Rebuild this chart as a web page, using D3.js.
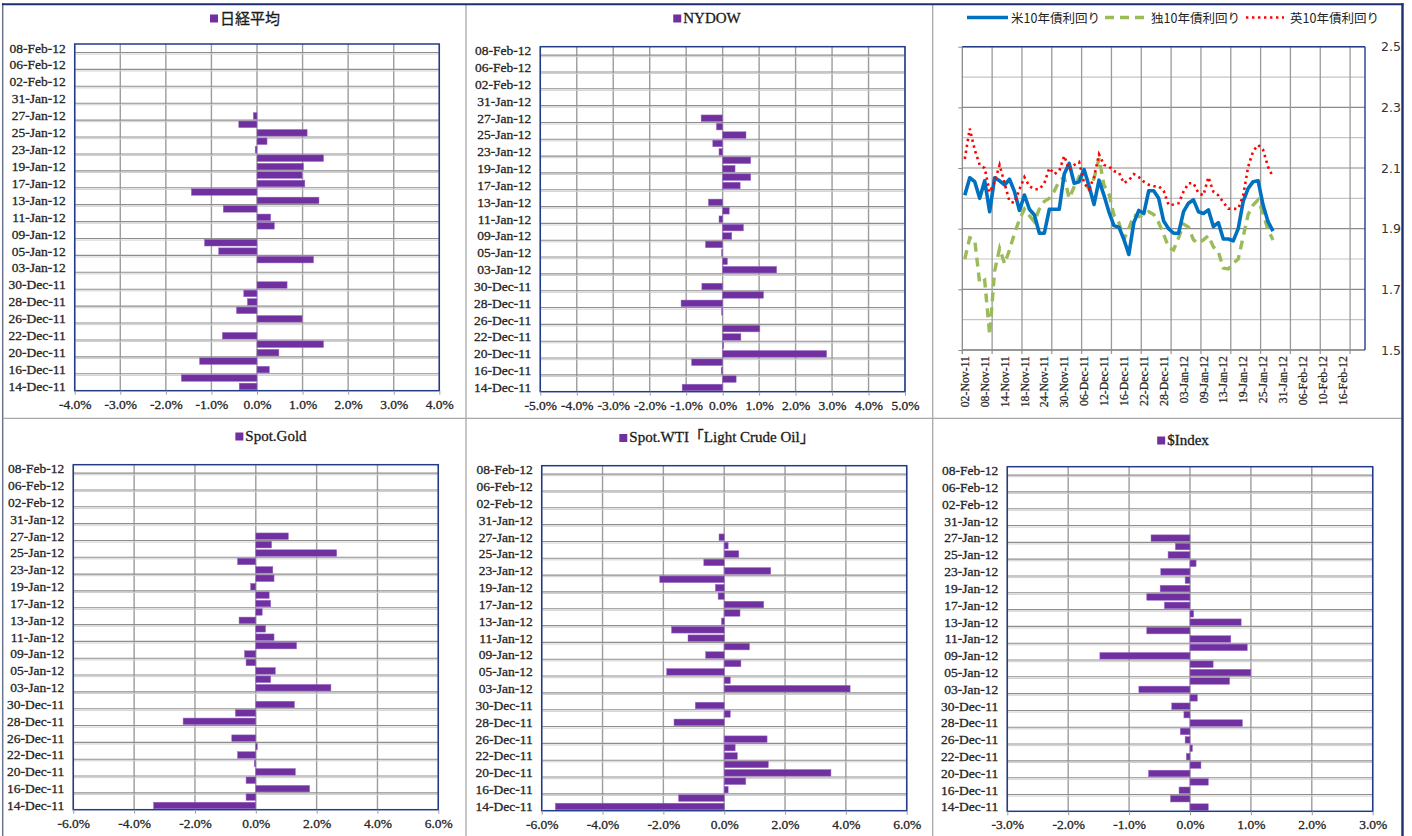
<!DOCTYPE html>
<html><head><meta charset="utf-8">
<script src="https://cdn.jsdelivr.net/npm/d3@7"></script>
<style>
html,body{margin:0;padding:0;background:#fff;}
svg{display:block;}
</style></head><body>
<svg id="c" width="1412" height="836"></svg>
<script>
// ---------- DATA ----------
const barDates = ["14-Dec-11","15-Dec-11","16-Dec-11","19-Dec-11","20-Dec-11","21-Dec-11","22-Dec-11","23-Dec-11","26-Dec-11","27-Dec-11","28-Dec-11","29-Dec-11","30-Dec-11","02-Jan-12","03-Jan-12","04-Jan-12","05-Jan-12","06-Jan-12","09-Jan-12","10-Jan-12","11-Jan-12","12-Jan-12","13-Jan-12","16-Jan-12","17-Jan-12","18-Jan-12","19-Jan-12","20-Jan-12","23-Jan-12","24-Jan-12","25-Jan-12","26-Jan-12","27-Jan-12","30-Jan-12","31-Jan-12","01-Feb-12","02-Feb-12","03-Feb-12","06-Feb-12","07-Feb-12","08-Feb-12"];

const nikkei = [-0.39,-1.66,0.27,-1.26,0.48,1.46,-0.76,null,0.99,-0.45,-0.21,-0.29,0.66,null,null,1.24,-0.84,-1.15,null,0.38,0.30,-0.74,1.36,-1.44,1.05,0.99,1.02,1.46,-0.04,0.22,1.10,-0.40,-0.08];
const nydow = [-1.11,0.37,-0.04,-0.85,2.85,0.03,0.50,1.02,null,-0.03,-1.14,1.12,-0.57,null,1.48,0.13,-0.03,-0.47,0.25,0.57,-0.10,0.18,-0.39,null,0.48,0.77,0.34,0.77,-0.10,-0.27,0.64,-0.17,-0.59];
const gold = [-3.36,-0.32,1.77,-0.32,1.30,-0.05,-0.60,0.05,-0.79,null,-2.39,-0.67,1.27,null,2.47,0.49,0.64,-0.32,-0.37,1.34,0.60,0.32,-0.55,0.21,0.49,0.44,-0.17,0.60,0.56,-0.60,2.66,0.52,1.07];
const wti = [-5.55,-1.50,0.13,0.71,3.51,1.45,0.43,0.36,1.41,null,-1.65,0.20,-0.95,null,4.14,0.20,-1.89,0.55,-0.61,0.83,-1.19,-1.73,-0.09,0.52,1.30,-0.20,-0.29,-2.12,1.53,-0.67,0.48,0.13,-0.17];
const dollarIndex = [0.30,-0.32,-0.18,0.30,-0.68,0.18,-0.06,0.04,-0.08,-0.16,0.86,-0.10,-0.30,0.12,-0.84,0.65,1.00,0.38,-1.48,0.94,0.67,-0.71,0.84,0.06,-0.42,-0.71,-0.49,-0.08,-0.48,0.10,-0.36,-0.24,-0.64];

const ticks4 = [-4,-3,-2,-1,0,1,2,3,4];
const ticks5 = [-5,-4,-3,-2,-1,0,1,2,3,4,5];
const ticks6 = [-6,-4,-2,0,2,4,6];
const ticks3 = [-3,-2,-1,0,1,2,3];

const lineDates = ["02-Nov-11","03-Nov-11","04-Nov-11","07-Nov-11","08-Nov-11","09-Nov-11","10-Nov-11","11-Nov-11","14-Nov-11","15-Nov-11","16-Nov-11","17-Nov-11","18-Nov-11","21-Nov-11","22-Nov-11","23-Nov-11","24-Nov-11","25-Nov-11","28-Nov-11","29-Nov-11","30-Nov-11","01-Dec-11","02-Dec-11","05-Dec-11","06-Dec-11","07-Dec-11","08-Dec-11","09-Dec-11","12-Dec-11","13-Dec-11","14-Dec-11","15-Dec-11","16-Dec-11","19-Dec-11","20-Dec-11","21-Dec-11","22-Dec-11","23-Dec-11","26-Dec-11","27-Dec-11","28-Dec-11","29-Dec-11","30-Dec-11","02-Jan-12","03-Jan-12","04-Jan-12","05-Jan-12","06-Jan-12","09-Jan-12","10-Jan-12","11-Jan-12","12-Jan-12","13-Jan-12","16-Jan-12","17-Jan-12","18-Jan-12","19-Jan-12","20-Jan-12","23-Jan-12","24-Jan-12","25-Jan-12","26-Jan-12","27-Jan-12","30-Jan-12","31-Jan-12","01-Feb-12","02-Feb-12","03-Feb-12","06-Feb-12","07-Feb-12","08-Feb-12","09-Feb-12","10-Feb-12","13-Feb-12","14-Feb-12","15-Feb-12","16-Feb-12","17-Feb-12","20-Feb-12","21-Feb-12","22-Feb-12"];

const usYield = [2.01,2.068,2.055,2.0,2.058,1.956,2.068,2.058,2.044,2.063,2.022,1.96,2.011,1.964,1.945,1.885,1.885,1.964,1.964,1.964,2.08,2.115,2.05,2.055,2.095,2.04,1.98,2.06,2.01,1.955,1.91,1.905,1.865,1.815,1.92,1.96,1.95,2.025,2.025,2.0,1.925,1.9,1.885,1.885,1.956,1.984,1.995,1.956,1.95,1.962,1.907,1.92,1.866,1.866,1.86,1.90,1.99,2.033,2.055,2.058,1.978,1.923,1.892];
const deYield = [1.80,1.87,1.863,1.72,1.73,1.55,1.76,1.835,1.785,1.83,1.885,1.93,1.965,1.943,1.923,1.965,1.99,2.0,2.024,2.057,2.07,2.0,2.038,2.071,2.057,2.03,2.066,2.132,2.044,2.014,1.945,1.92,1.865,1.9,1.945,1.94,1.945,1.956,1.947,1.92,1.882,1.838,1.83,1.87,1.915,1.905,1.863,1.852,1.863,1.877,1.84,1.824,1.77,1.767,1.786,1.80,1.874,1.947,1.978,1.995,1.95,1.896,1.863];
const ukYield = [2.13,2.23,2.16,2.11,2.10,2.02,2.055,2.11,2.05,1.99,1.985,2.03,2.07,2.04,2.03,2.03,2.05,2.10,2.08,2.09,2.14,2.095,2.11,2.12,2.05,2.03,2.07,2.145,2.11,2.105,2.09,2.085,2.05,2.06,2.08,2.07,2.055,2.045,2.04,2.04,2.025,1.978,1.98,1.984,2.022,2.05,2.05,2.017,2.01,2.07,2.022,2.01,1.987,1.966,1.965,1.966,2.01,2.104,2.156,2.176,2.16,2.104,2.07];
const yieldTicks = [1.5,1.7,1.9,2.1,2.3,2.5];
const yieldMinor = [1.6,1.8,2.0,2.2,2.4];
const seriesNames = ["米10年債利回り","独10年債利回り","英10年債利回り"];

// ---------- STYLE ----------
const SERIF = "'Liberation Serif','Times New Roman','Noto Sans CJK JP',serif";
const JP = "'Noto Sans CJK JP','Noto Sans',sans-serif";
const NAVY = "#233c8a";
const GRID = "#9c9c9c";
const BAR = "#7030a0";
const TXT = "#262626";

const svg = d3.select("#c");
svg.append("rect").attr("width",1412).attr("height",836).attr("fill","#fff");

function heavy(sel){ sel.attr("stroke", TXT).attr("stroke-width", 0.3); }

function barPanel(cfg){
  const {title, values, domain, ticks, left, right, top, bottom, tcx, tcy, titleFont} = cfg;
  const g = svg.append("g");
  const x = d3.scaleLinear().domain(domain).range([left, right]);
  const y = d3.scaleBand().domain(barDates).range([bottom, top]).paddingInner(0.22).paddingOuter(0.11);
  const step = y.step();

  // vertical gridlines
  g.append("g").selectAll("line").data(ticks).join("line")
    .attr("x1", d=>x(d)).attr("x2", d=>x(d)).attr("y1", top).attr("y2", bottom)
    .attr("stroke", GRID).attr("stroke-width", 1.4);
  // horizontal gridlines every 2 categories
  const hk = d3.range(1, 21);
  const hg = g.append("g");
  hg.selectAll("line.a").data(hk).join("line").attr("class","a")
    .attr("x1", left).attr("x2", right)
    .attr("y1", k=>bottom - 2*k*step).attr("y2", k=>bottom - 2*k*step)
    .attr("stroke", "#8e8e8e").attr("stroke-width", 1.1);
  hg.selectAll("line.b").data(hk).join("line").attr("class","b")
    .attr("x1", left).attr("x2", right)
    .attr("y1", k=>bottom - 2*k*step + 1.6).attr("y2", k=>bottom - 2*k*step + 1.6)
    .attr("stroke", "#cfcfcf").attr("stroke-width", 1);

  // bars
  const rows = values.map((v,i)=>({d:barDates[i], v})).filter(r=>r.v!==null);
  g.append("g").selectAll("rect").data(rows).join("rect")
    .attr("x", r=>x(Math.min(0,r.v))).attr("width", r=>Math.abs(x(r.v)-x(0)))
    .attr("y", r=>y(r.d)).attr("height", y.bandwidth())
    .attr("fill", BAR).attr("stroke","#9a6cc4").attr("stroke-width",0.5);

  // plot border
  g.append("rect").attr("x", left).attr("y", top).attr("width", right-left).attr("height", bottom-top)
    .attr("fill","none").attr("stroke", NAVY).attr("stroke-width", 1.5);

  // x axis
  const xa = g.append("g").attr("transform", `translate(0,${bottom})`)
    .call(d3.axisBottom(x).tickValues(ticks).tickSize(4).tickPadding(4.5).tickFormat(d=>d.toFixed(1)+"%"));
  xa.select(".domain").remove();
  xa.selectAll(".tick line").attr("stroke", GRID);
  xa.selectAll("text").attr("font-family", SERIF).attr("font-size", 13.5).attr("fill",TXT).call(heavy);

  // y axis
  const ya = g.append("g").attr("transform", `translate(${left},0)`)
    .call(d3.axisLeft(y).tickValues(barDates.filter((d,i)=>i%2===0)).tickSize(0).tickPadding(9));
  ya.select(".domain").remove();
  ya.selectAll("text").attr("font-family", SERIF).attr("font-size", 13.5).attr("fill",TXT).call(heavy);

  // title with legend key
  const tg = g.append("g");
  const tt = tg.append("text").text(title).attr("font-family", titleFont).attr("font-size", 15)
    .attr("fill","#1a1a1a").attr("dominant-baseline","central").attr("y", tcy)
    .attr("stroke","#1a1a1a").attr("stroke-width",0.3);
  const tw = tt.node().getComputedTextLength();
  const total = 8 + 2 + tw;
  const sx = tcx - total/2;
  tg.append("rect").attr("x", sx).attr("y", tcy-3).attr("width", 8).attr("height", 8).attr("fill", BAR);
  tt.attr("x", sx + 10);
}

barPanel({title:"日経平均", values:nikkei, domain:[-4,4], ticks:ticks4, left:74.7, right:439.3, top:44, bottom:390.7, tcx:245, tcy:17.5, titleFont:JP});
barPanel({title:"NYDOW", values:nydow, domain:[-5,5], ticks:ticks5, left:540.3, right:905, top:46.7, bottom:391.7, tcx:707, tcy:17.5, titleFont:SERIF});
barPanel({title:"Spot.Gold", values:gold, domain:[-6,6], ticks:ticks6, left:73.3, right:438.3, top:464.7, bottom:809.7, tcx:271, tcy:435.5, titleFont:SERIF});
barPanel({title:"Spot.WTI「Light Crude Oil」", values:wti, domain:[-6,6], ticks:ticks6, left:541.7, right:906.7, top:465.7, bottom:810.7, tcx:717, tcy:437, titleFont:SERIF});
barPanel({title:"$Index", values:dollarIndex, domain:[-3,3], ticks:ticks3, left:1007.3, right:1372.7, top:466.7, bottom:811.3, tcx:1183, tcy:439.5, titleFont:SERIF});

// ---------- LINE PANEL ----------
(function(){
  const left=962.3, right=1365, top=46.7, bottom=350;
  const g = svg.append("g");
  const x = d3.scaleBand().domain(lineDates).range([left,right]).padding(0);
  const cx = d => x(d) + x.bandwidth()/2;
  const y = d3.scaleLinear().domain([1.5,2.5]).range([bottom, top]);

  // minor horizontal gridlines
  g.append("g").selectAll("line").data(yieldMinor).join("line")
    .attr("x1",left).attr("x2",right).attr("y1",d=>y(d)).attr("y2",d=>y(d))
    .attr("stroke","#c4c4c4").attr("stroke-width",1.2);
  // major horizontal gridlines
  g.append("g").selectAll("line").data(yieldTicks).join("line")
    .attr("x1",left).attr("x2",right).attr("y1",d=>y(d)).attr("y2",d=>y(d))
    .attr("stroke","#8a8a8a").attr("stroke-width",1.2);
  // vertical gridlines every 6 categories
  const vIdx = d3.range(6, 81, 6);
  g.append("g").selectAll("line").data(vIdx).join("line")
    .attr("x1",i=>x(lineDates[i])).attr("x2",i=>x(lineDates[i])).attr("y1",top).attr("y2",bottom+4)
    .attr("stroke","#9a9a9a").attr("stroke-width",1.3);

  // border
  g.append("line").attr("x1",left).attr("x2",left).attr("y1",top).attr("y2",bottom+4).attr("stroke","#8a8a8a").attr("stroke-width",1.3);
  g.append("line").attr("x1",left).attr("x2",right).attr("y1",bottom).attr("y2",bottom).attr("stroke","#8a8a8a").attr("stroke-width",1.3);
  g.append("line").attr("x1",left).attr("x2",right).attr("y1",top).attr("y2",top).attr("stroke",NAVY).attr("stroke-width",1.4);
  g.append("line").attr("x1",right).attr("x2",right).attr("y1",top).attr("y2",bottom).attr("stroke",NAVY).attr("stroke-width",1.4);

  // left tick marks
  const la = g.append("g").attr("transform",`translate(${left},0)`)
    .call(d3.axisLeft(y).tickValues(yieldTicks).tickSize(4).tickFormat(""));
  la.select(".domain").remove();
  la.selectAll(".tick line").attr("stroke","#8a8a8a");

  // right labels
  const ra = g.append("g").attr("transform",`translate(${right},0)`)
    .call(d3.axisRight(y).tickValues(yieldTicks).tickSize(0).tickPadding(16).tickFormat(d3.format(".1f")));
  ra.select(".domain").remove();
  ra.selectAll("text").attr("font-family","'DejaVu Sans',sans-serif").attr("font-size",12.5).attr("fill","#333");

  // bottom labels (every 4 categories, rotated)
  const lbl = lineDates.filter((d,i)=>i%4===0 && i<=76);
  g.append("g").selectAll("text").data(lbl).join("text")
    .attr("transform", d=>`translate(${cx(d)},${bottom+6}) rotate(-90)`)
    .attr("text-anchor","end").attr("dy","0.35em")
    .attr("font-family",SERIF).attr("font-size",11.8).attr("fill",TXT)
    .attr("stroke",TXT).attr("stroke-width",0.25)
    .text(d=>d);

  const line = d3.line().x((v,i)=>cx(lineDates[i])).y(v=>y(v)).curve(d3.curveLinear);
  g.append("path").datum(deYield).attr("d",line).attr("fill","none")
    .attr("stroke","#9bbb59").attr("stroke-width",3.4).attr("stroke-dasharray","9,6");
  g.append("path").datum(usYield).attr("d",line).attr("fill","none")
    .attr("stroke","#0070c0").attr("stroke-width",3.6).attr("stroke-linejoin","round");
  g.append("path").datum(ukYield).attr("d",line).attr("fill","none")
    .attr("stroke","#ff0000").attr("stroke-width",2.6).attr("stroke-dasharray","2.4,3.6");

  // legend
  const ly = 17.5;
  const leg = [
    {x1:967, x2:1008, tx:1011, color:"#0070c0", dash:null, w:3.6, name:seriesNames[0]},
    {x1:1105, x2:1145, tx:1151, color:"#9bbb59", dash:"9,6", w:3.4, name:seriesNames[1]},
    {x1:1246, x2:1284, tx:1290, color:"#ff0000", dash:"2.4,3.6", w:2.6, name:seriesNames[2]}
  ];
  const lg = svg.append("g");
  leg.forEach(l=>{
    lg.append("line").attr("x1",l.x1).attr("x2",l.x2).attr("y1",ly).attr("y2",ly)
      .attr("stroke",l.color).attr("stroke-width",l.w).attr("stroke-dasharray",l.dash);
    lg.append("text").attr("x",l.tx).attr("y",ly).attr("dominant-baseline","central")
      .attr("font-family",JP).attr("font-size",12.5).attr("fill","#222").text(l.name);
  });
})();

// ---------- FRAME / DIVIDERS ----------
const fr = svg.append("g");
fr.append("line").attr("x1",2.7).attr("x2",2.7).attr("y1",3).attr("y2",836).attr("stroke","#6b7590").attr("stroke-width",1.5);
fr.append("line").attr("x1",466).attr("x2",466).attr("y1",5).attr("y2",836).attr("stroke","#a8a8a8").attr("stroke-width",1.3);
fr.append("line").attr("x1",932.7).attr("x2",932.7).attr("y1",5).attr("y2",836).attr("stroke","#a8a8a8").attr("stroke-width",1.3);
fr.append("line").attr("x1",3).attr("x2",1402).attr("y1",418.3).attr("y2",418.3).attr("stroke","#a8a8a8").attr("stroke-width",1.3);
fr.append("line").attr("x1",2).attr("x2",1403.5).attr("y1",4.2).attr("y2",4.2).attr("stroke","#1f2e6e").attr("stroke-width",2);
fr.append("line").attr("x1",1402.5).attr("x2",1402.5).attr("y1",3.2).attr("y2",836).attr("stroke","#1f2e6e").attr("stroke-width",2.4);
</script>
</body></html>
